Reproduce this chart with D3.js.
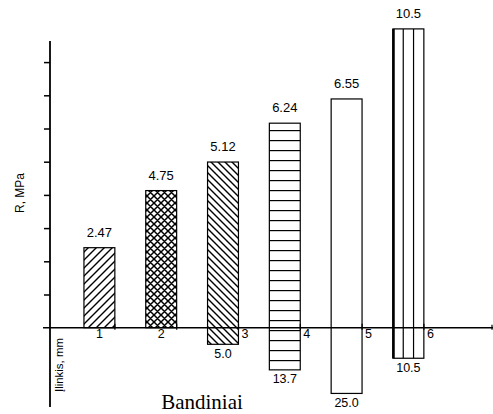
<!DOCTYPE html>
<html><head><meta charset="utf-8">
<script src="https://cdn.jsdelivr.net/npm/d3@7"></script>
<style>html,body{margin:0;padding:0;background:#fff;}svg{display:block;}</style>
</head><body>
<script>
// ---- data ----
const specimens = ["1", "2", "3", "4", "5", "6"];
const strengthLabels = ["2.47", "4.75", "5.12", "6.24", "6.55", "10.5"];   // R, MPa (printed)
const strengthDrawn = [2.41, 4.13, 4.99, 6.16, 6.89, 9.0];                   // bar heights as drawn (axis units)
const deflectionLabels = ["", "", "5.0", "13.7", "25.0", "10.5"];           // deflection, mm (printed)
const deflectionDrawn = [0, 0, 5.0, 12.7, 19.8, 9.2];                       // depth as drawn (mm)
const patterns = ["hatchUp", "cross", "hatchDown", "horiz", "none", "vert"];
const yTicks = [1, 2, 3, 4, 5, 6, 7, 8];

const W = 493, H = 414;
const svg = d3.select("body").append("svg").attr("width", W).attr("height", H);
const defs = svg.append("defs");

function pat(id, w, h, d, sw) {
  const p = defs.append("pattern").attr("id", id).attr("patternUnits", "userSpaceOnUse")
    .attr("width", w).attr("height", h);
  p.append("rect").attr("width", w).attr("height", h).attr("fill", "#fff");
  p.append("path").attr("d", d).attr("stroke", "#000").attr("stroke-width", sw).attr("fill", "none");
}
pat("hatchUp", 8, 8, "M-2,2L2,-2M0,8L8,0M6,10L10,6", 1.4);
pat("hatchDown", 7, 7, "M0,0L7,7M-1.75,5.25L1.75,8.75M5.25,-1.75L8.75,1.75", 1.4);
pat("cross", 7, 7, "M0,0L7,7M0,7L7,0M-1.75,5.25L1.75,8.75M5.25,-1.75L8.75,1.75M-1.75,1.75L1.75,-1.75M5.25,8.75L8.75,5.25", 1.5);
pat("horiz", 10, 10, "M0,0.5H10", 1.4);

const baseY = 327.7, unit = 33.2;
const y = d3.scaleLinear().domain([0, 8]).range([baseY, baseY - 8 * unit]);
const yDepth = d3.scaleLinear().domain([0, 10]).range([baseY, baseY + unit]);
const x = d3.scaleBand().domain(specimens).range([68.5, 439.3]).paddingInner(0.5).paddingOuter(0.25);

const data = specimens.map((s, i) => ({
  s, i, lab: strengthLabels[i], h: strengthDrawn[i], dl: deflectionLabels[i], d: deflectionDrawn[i], p: patterns[i]
}));

const g = svg.append("g");
// bars
data.forEach(d => {
  const x0 = x(d.s), bw = x.bandwidth();
  const top = y(d.h), bot = yDepth(d.d);
  const fill = d.p === "none" || d.p === "vert" ? "#fff" : `url(#${d.p})`;
  g.append("rect").attr("x", x0).attr("y", top).attr("width", bw).attr("height", bot - top)
    .attr("fill", fill).attr("stroke", "#000").attr("stroke-width", 1.2);
  if (d.p === "vert") {
    [1, 2].forEach(k => g.append("line").attr("x1", x0 + bw * k / 3).attr("x2", x0 + bw * k / 3)
      .attr("y1", top).attr("y2", bot).attr("stroke", "#000").attr("stroke-width", 1.2));
    g.append("line").attr("x1", x0 + 0.5).attr("x2", x0 + 0.5).attr("y1", top).attr("y2", bot)
      .attr("stroke", "#000").attr("stroke-width", 2.6);
  }
  g.append("text").attr("x", x0 + bw / 2).attr("y", top - 11).attr("text-anchor", "middle")
    .attr("font-family", "Liberation Sans, Arial, sans-serif").attr("font-size", 13).text(d.lab);
  if (d.dl) {
    g.append("text").attr("x", x0 + bw / 2).attr("y", bot + 13.5).attr("text-anchor", "middle")
      .attr("font-family", "Liberation Sans, Arial, sans-serif").attr("font-size", 12.5).text(d.dl);
  }
});

// x axis line
const ax = svg.append("g").attr("stroke", "#000");
ax.append("line").attr("x1", 43).attr("x2", 493).attr("y1", baseY).attr("y2", baseY).attr("stroke-width", 1.6);
ax.append("line").attr("x1", 492).attr("x2", 492).attr("y1", baseY - 3).attr("y2", baseY + 2).attr("stroke-width", 1.2);
// x ticks and labels
data.forEach(d => {
  const c = x(d.s) + x.bandwidth() / 2;
  const tx = c + 15.5;
  ax.append("line").attr("x1", tx).attr("x2", tx).attr("y1", baseY - 4).attr("y2", baseY + 2).attr("stroke-width", 1.2);
  svg.append("text").attr("x", d.i < 2 ? c : tx + 6.5).attr("y", baseY + 10).attr("text-anchor", "middle")
    .attr("font-family", "Liberation Sans, Arial, sans-serif").attr("font-size", 12.5).text(d.s);
});

// y axis
const yAxis = d3.axisLeft(y).tickValues(yTicks).tickSize(6).tickFormat("");
const yg = svg.append("g").attr("transform", "translate(50,0)").call(yAxis);
yg.select(".domain").remove();
yg.selectAll(".tick line").attr("stroke", "#000").attr("stroke-width", 1.5);
svg.append("line").attr("x1", 50).attr("x2", 50).attr("y1", 41).attr("y2", 407)
  .attr("stroke", "#000").attr("stroke-width", 1.8);

// axis titles
svg.append("text").attr("transform", "translate(24,193) rotate(-90)").attr("text-anchor", "middle")
  .attr("font-family", "Liberation Sans, Arial, sans-serif").attr("font-size", 12).text("R, MPa");
svg.append("text").attr("transform", "translate(63,365) rotate(-90)").attr("text-anchor", "middle")
  .attr("font-family", "Liberation Sans, Arial, sans-serif").attr("font-size", 10)
  .attr("textLength", 54).attr("lengthAdjust", "spacingAndGlyphs").text("Įlinkis, mm");
svg.append("text").attr("x", 202).attr("y", 409).attr("text-anchor", "middle")
  .attr("font-family", "Liberation Serif, Times New Roman, serif").attr("font-size", 21).text("Bandiniai");
</script>
</body></html>
